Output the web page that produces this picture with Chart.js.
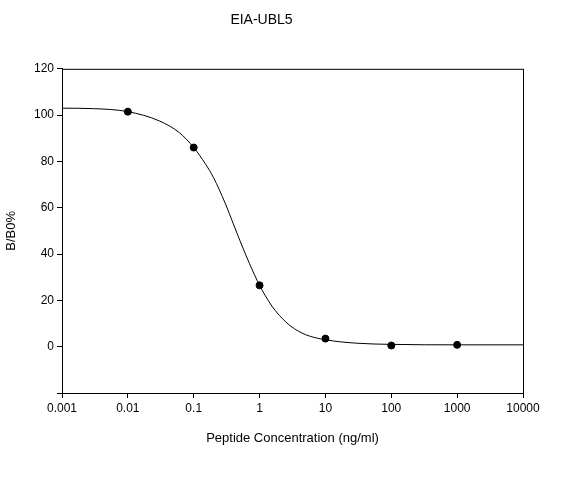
<!DOCTYPE html>
<html>
<head>
<meta charset="utf-8">
<script src="https://cdn.jsdelivr.net/npm/chart.js@4/dist/chart.umd.min.js"></script>
<style>
  html, body { margin: 0; padding: 0; background: #fff; }
  #wrap { width: 567px; height: 498px; }
</style>
</head>
<body>
<div id="wrap"><canvas id="c"></canvas></div>
<script>
// measured points
var concentrations = [0.01, 0.1, 1, 10, 100, 1000];
var bB0 = [101.5, 86, 26.5, 3.5, 0.5, 0.8];

// fitted curve
var curveX = [0.001, 0.003, 0.01, 0.03, 0.06, 0.1, 0.15, 0.2, 0.3, 0.4, 0.5, 0.7, 1, 1.5, 2, 3, 5, 10, 30, 100, 1000, 10000];
var curveY = [103, 102.8, 101.5, 97.5, 92.5, 86, 79, 73, 62, 53, 46, 36, 26.5, 18, 13.5, 8.8, 5.2, 3, 1.5, 1, 0.8, 0.8];

var xTicks = [0.001, 0.01, 0.1, 1, 10, 100, 1000, 10000];
var xTickLabels = ["0.001", "0.01", "0.1", "1", "10", "100", "1000", "10000"];

function pairs(xs, ys) {
    return xs.map(function (x, i) { return {x: x, y: ys[i]}; });
}

var font = {family: "'Liberation Sans', Arial, sans-serif", size: 12};

var frame = {
    id: "frame",
    afterDraw: function (chart) {
        var a = chart.chartArea, ctx = chart.ctx;
        ctx.save();
        ctx.strokeStyle = "#000";
        ctx.lineWidth = 1;
        ctx.strokeRect(a.left + 0.5, a.top + 0.5, a.right - a.left, a.bottom - a.top);
        ctx.restore();
    }
};

new Chart(document.getElementById("c"), {
    type: "scatter",
    data: {
        datasets: [{
            data: pairs(curveX, curveY),
            showLine: true,
            tension: 0.3,
            cubicInterpolationMode: "monotone",
            borderColor: "#000",
            borderWidth: 1,
            pointRadius: 0
        }, {
            data: pairs(concentrations, bB0),
            backgroundColor: "#000",
            borderColor: "#000",
            pointRadius: 3.5
        }]
    },
    options: {
        responsive: true,
        maintainAspectRatio: false,
        animation: false,
        layout: {padding: {left: 0, right: 44, top: 0, bottom: 48}},
        plugins: {
            legend: {display: false},
            tooltip: {enabled: false},
            title: {
                display: true,
                text: "EIA-UBL5",
                color: "#000",
                font: {family: font.family, size: 14, weight: "normal"},
                padding: {top: 12, bottom: 40}
            }
        },
        scales: {
            x: {
                type: "logarithmic",
                min: 0.001,
                max: 10000,
                afterBuildTicks: function (axis) {
                    axis.ticks = xTicks.map(function (v) { return {value: v}; });
                },
                afterFit: function (axis) { axis.height = 57; },
                ticks: {
                    color: "#000", font: font, maxRotation: 0, autoSkip: false,
                    callback: function (v) {
                        var i = xTicks.indexOf(v);
                        return i >= 0 ? xTickLabels[i] : "";
                    }
                },
                grid: {drawOnChartArea: false, tickLength: 5, color: "#000"},
                border: {color: "#000"},
                title: {display: true, text: "Peptide Concentration (ng/ml)", color: "#000", font: {family: font.family, size: 13}}
            },
            y: {
                min: -20,
                max: 120,
                afterFit: function (axis) { axis.width = 62; },
                ticks: {
                    stepSize: 20, color: "#000", font: font,
                    callback: function (v) { return v < 0 ? "" : v; }
                },
                grid: {drawOnChartArea: false, tickLength: 5, color: "#000"},
                border: {color: "#000"},
                title: {display: true, text: "B/B0%", color: "#000", font: {family: font.family, size: 13}}
            }
        }
    },
    plugins: [frame]
});
</script>
</body>
</html>
